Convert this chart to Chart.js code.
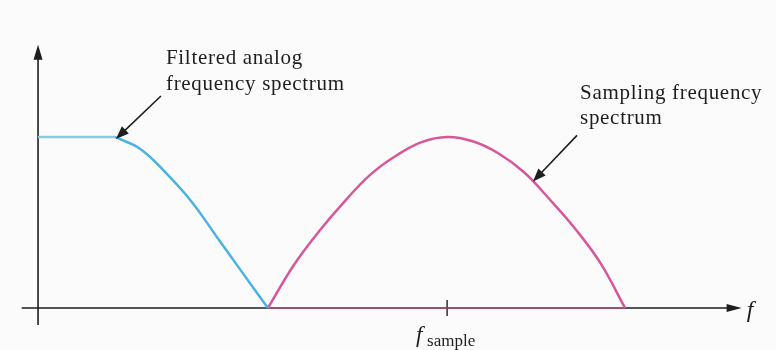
<!DOCTYPE html>
<html>
<head>
<meta charset="utf-8">
<script src="https://cdn.jsdelivr.net/npm/chart.js@4"></script>
<style>
  html, body { margin: 0; padding: 0; background: #fbfbfb; }
  #wrap { width: 776px; height: 350px; }
</style>
</head>
<body>
<div id="wrap"><canvas id="spectrum" width="776" height="350"></canvas></div>
<script>
// frequency in units of f_sample, level relative to the passband
const analogFreq = [0, 0.188, 0.25, 0.3125, 0.375, 0.4375, 0.5, 0.562];
const analogLevel = [1, 1, 0.93, 0.79, 0.623, 0.414, 0.205, 0];
const sampledFreq = [0.562, 0.625, 0.6875, 0.75, 0.8125, 0.875, 0.9375, 1.0,
                     1.0625, 1.125, 1.1875, 1.25, 1.3125, 1.375, 1.435];
const sampledLevel = [0, 0.25, 0.45, 0.625, 0.78, 0.89, 0.97, 1.0,
                      0.975, 0.905, 0.795, 0.637, 0.465, 0.262, 0];
const tickFreqs = [1];
const analogNote = ['Filtered analog', 'frequency spectrum'];
const sampledNote = ['Sampling frequency', 'spectrum'];

const BLUE = '#4cb2e2';
const PINK = '#d6579b';
const INK = '#1e1e1e';
const SERIF = '"Liberation Serif", "DejaVu Serif", serif';

function toPoints(xs, ys) {
    return xs.map((x, i) => ({ x: x, y: ys[i] }));
}

function arrowHead(ctx, x1, y1, x2, y2, len, half) {
    const a = Math.atan2(y2 - y1, x2 - x1);
    ctx.beginPath();
    ctx.moveTo(x2, y2);
    ctx.lineTo(x2 - len * Math.cos(a) + half * Math.sin(a), y2 - len * Math.sin(a) - half * Math.cos(a));
    ctx.lineTo(x2 - len * Math.cos(a) - half * Math.sin(a), y2 - len * Math.sin(a) + half * Math.cos(a));
    ctx.closePath();
    ctx.fill();
}

function arrow(ctx, x1, y1, x2, y2, len, half, width) {
    const a = Math.atan2(y2 - y1, x2 - x1);
    ctx.lineWidth = width;
    ctx.beginPath();
    ctx.moveTo(x1, y1);
    ctx.lineTo(x2 - (len - 2) * Math.cos(a), y2 - (len - 2) * Math.sin(a));
    ctx.stroke();
    arrowHead(ctx, x1, y1, x2, y2, len, half);
}

// axes with arrowheads, the f_sample tick and its label, then the callouts
const axesPlugin = {
    id: 'axes',
    beforeDatasetsDraw(chart) {
        const ctx = chart.ctx;
        const xs = chart.scales.x, ys = chart.scales.y;
        const x0 = xs.getPixelForValue(0), y0 = ys.getPixelForValue(0);
        ctx.save();
        ctx.strokeStyle = INK;
        ctx.fillStyle = INK;
        // vertical axis
        arrow(ctx, x0, ys.getPixelForValue(-0.1), x0, ys.getPixelForValue(1.54), 15, 4.5, 1.6);
        // horizontal axis
        arrow(ctx, xs.getPixelForValue(-0.04), y0, xs.getPixelForValue(1.72), y0, 15, 4, 1.4);

        ctx.lineWidth = 1.4;
        tickFreqs.forEach(f => {
            const px = xs.getPixelForValue(f);
            ctx.beginPath();
            ctx.moveTo(px, y0 - 8);
            ctx.lineTo(px, y0 + 8);
            ctx.stroke();
            ctx.textBaseline = 'alphabetic';
            ctx.textAlign = 'left';
            ctx.font = 'italic 23px ' + SERIF;
            ctx.fillText('f', px - 31, y0 + 34);
            ctx.font = '17px ' + SERIF;
            ctx.fillText('sample', px - 20, y0 + 38);
        });

        ctx.font = 'italic 24px ' + SERIF;
        ctx.fillText('f', xs.getPixelForValue(1.72) + 5, y0 + 9);
        ctx.restore();
    },
    afterDatasetsDraw(chart) {
        const ctx = chart.ctx;
        const xs = chart.scales.x, ys = chart.scales.y;
        ctx.save();
        ctx.strokeStyle = INK;
        ctx.fillStyle = INK;
        ctx.font = '21px ' + SERIF;
        ctx.letterSpacing = '0.7px';
        ctx.textAlign = 'left';
        ctx.textBaseline = 'alphabetic';

        // callout to the end of the flat passband
        const t1x = xs.getPixelForValue(analogFreq[1]) + 1;
        const t1y = ys.getPixelForValue(analogLevel[1]) + 2;
        arrow(ctx, t1x + 45, t1y - 43, t1x, t1y, 13, 5, 1.6);
        analogNote.forEach((line, i) => ctx.fillText(line, t1x + 50, t1y - 75 + i * 26));

        // callout to the falling side of the sampled spectrum
        const t2x = xs.getPixelForValue(1.21);
        const t2y = ys.getPixelForValue(0.74);
        arrow(ctx, t2x + 44, t2y - 46, t2x, t2y, 13, 5, 1.6);
        sampledNote.forEach((line, i) => ctx.fillText(line, t2x + 47, t2y - 82 + i * 25));
        ctx.restore();
    }
};

const curve = { showLine: true, pointRadius: 0, borderWidth: 2.5, tension: 0.4 };

new Chart(document.getElementById('spectrum'), {
    type: 'scatter',
    data: {
        datasets: [
            Object.assign({}, curve, {
                label: 'Passband',
                data: toPoints(analogFreq.slice(0, 2), analogLevel.slice(0, 2)),
                borderColor: '#88c9e6',
                tension: 0
            }),
            Object.assign({}, curve, {
                label: 'Filtered analog frequency spectrum',
                data: toPoints(analogFreq.slice(1), analogLevel.slice(1)),
                borderColor: BLUE
            }),
            Object.assign({}, curve, {
                label: 'Sampling frequency spectrum',
                data: toPoints(sampledFreq, sampledLevel),
                borderColor: PINK
            }),
            {
                label: 'Sampled floor',
                data: [
                    { x: sampledFreq[0], y: 0 },
                    { x: sampledFreq[sampledFreq.length - 1], y: 0 }
                ],
                showLine: true,
                borderColor: 'rgba(200, 80, 140, 0.75)',
                borderWidth: 1.6,
                pointRadius: 0
            }
        ]
    },
    options: {
        responsive: false,
        animation: false,
        layout: { padding: 0 },
        plugins: { legend: { display: false }, tooltip: { enabled: false } },
        scales: {
            x: { type: 'linear', min: -0.093, max: 1.804, display: false },
            y: { type: 'linear', min: -0.246, max: 1.801, display: false }
        }
    },
    plugins: [axesPlugin]
});
</script>
</body>
</html>
